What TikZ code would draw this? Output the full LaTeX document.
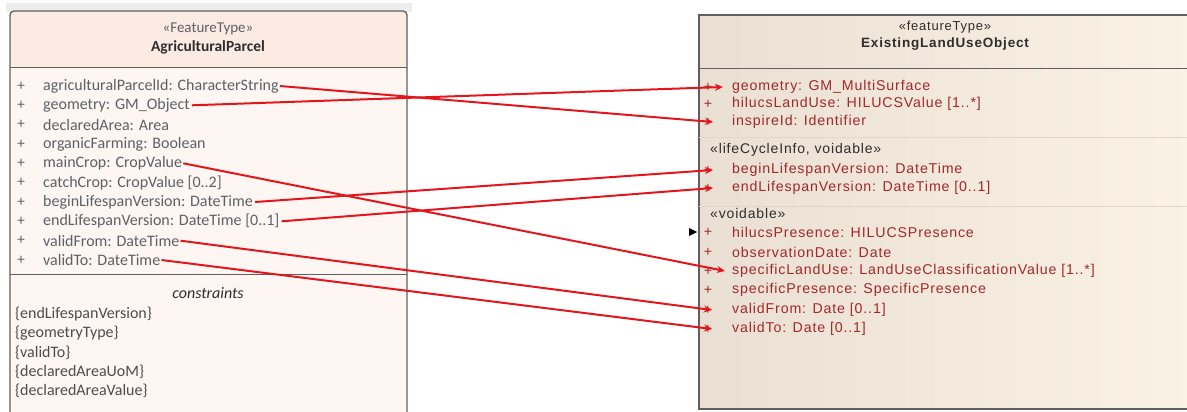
\documentclass[tikz,border=0pt]{standalone}
\usepackage{fontspec}
\setmainfont{Carlito}
\newfontfamily\arialf[LetterSpace=6]{Liberation Sans}
\usetikzlibrary{arrows.meta}
\definecolor{lhead}{HTML}{FBEBE2}
\definecolor{lbody}{HTML}{FDF6F2}
\definecolor{lgray}{HTML}{5E6068}
\definecolor{ldark}{HTML}{2E2E2E}
\definecolor{boxline}{HTML}{5F5F5F}
\definecolor{rleft}{HTML}{E9DFD2}
\definecolor{rright}{HTML}{FBF2E6}
\definecolor{rred}{HTML}{A3282C}
\definecolor{linkred}{HTML}{E3161E}
\definecolor{sepc}{HTML}{E2D6C8}
\tikzset{
  lrow/.style={anchor=west, inner sep=0pt, font=\fontsize{16}{18}\selectfont, text=lgray},
  lplus/.style={inner sep=0pt, font=\fontsize{15}{18}\selectfont, text=lgray},
  rrow/.style={anchor=west, inner sep=0pt, font=\arialf\fontsize{14.2}{16}\selectfont, text=rred},
  rplus/.style={inner sep=0pt, font=\arialf\fontsize{14.2}{16}\selectfont, text=rred},
  rsect/.style={anchor=west, inner sep=0pt, font=\arialf\fontsize{14}{16}\selectfont, text=ldark},
  link/.style={draw=linkred, line width=2pt, -{Stealth[length=8pt,width=7pt]}},
}
\begin{document}
\begin{tikzpicture}[x=1pt,y=-1pt]
\useasboundingbox (0,0) rectangle (1187,412);
\begin{scope}
\clip (0,0) rectangle (1187,412);
% faint strip above left box
\fill[black!7] (6,3) rectangle (412,12);
% left box
\fill[lbody] (10,60) rectangle (407,420);
\fill[lhead, rounded corners=4pt] (10,68) -- (10,11) -- (407,11) -- (407,68) -- cycle;
\draw[boxline, line width=1.3pt, rounded corners=4pt] (10,430) -- (10,11) -- (407,11) -- (407,430);
\draw[boxline, line width=1pt] (10,68) -- (407,68);
\draw[boxline, line width=1pt] (10,274) -- (407,274);
% right box
\shade[left color=rleft, right color=rright] (699,15) rectangle (1195,409);
\draw[boxline, line width=1.3pt] (699,15) rectangle (1195,409);
\draw[boxline, line width=1pt] (699,69) -- (1195,69);
\draw[sepc, line width=0.8pt] (699,137) -- (1195,137);
\draw[sepc, line width=0.8pt] (699,206) -- (1195,206);
\end{scope}

% left header
\node[inner sep=0pt, font=\fontsize{15}{17}\selectfont, text=lgray] (lst) at (208,29) {«FeatureType»};
\node[inner sep=0pt, font=\bfseries\fontsize{15.5}{17}\selectfont, text=ldark] (lname) at (208,47) {AgriculturalParcel};

% left rows
\foreach \i/\y in {1/86,2/105.3,3/124.7,4/144,5/163.3,6/182.7,7/202,8/221.3,9/240.7,10/260}
  \node[lplus] (lp\i) at (21,\y) {+};
\node[lrow] (a1) at (43,86) {agriculturalParcelId: CharacterString};
\node[lrow] (a2) at (43,105.3) {geometry: GM\_Object};
\node[lrow] (a3) at (43,124.7) {declaredArea: Area};
\node[lrow] (a4) at (43,144) {organicFarming: Boolean};
\node[lrow] (a5) at (43,163.3) {mainCrop: CropValue};
\node[lrow] (a6) at (43,182.7) {catchCrop: CropValue [0..2]};
\node[lrow] (a7) at (43,202) {beginLifespanVersion: DateTime};
\node[lrow] (a8) at (43,221.3) {endLifespanVersion: DateTime [0..1]};
\node[lrow] (a9) at (43,240.7) {validFrom: DateTime};
\node[lrow] (a10) at (43,260) {validTo: DateTime};

% constraints
\node[inner sep=0pt, font=\itshape\fontsize{16}{18}\selectfont, text=ldark] (ct) at (208,293) {constraints};
\node[lrow, text=ldark!85] (c1) at (15,314) {\{endLifespanVersion\}};
\node[lrow, text=ldark!85] (c2) at (15,333.3) {\{geometryType\}};
\node[lrow, text=ldark!85] (c3) at (15,352.6) {\{validTo\}};
\node[lrow, text=ldark!85] (c4) at (15,372) {\{declaredAreaUoM\}};
\node[lrow, text=ldark!85] (c5) at (15,391.3) {\{declaredAreaValue\}};

% right header
\node[inner sep=0pt, font=\arialf\fontsize{13}{14}\selectfont, text=ldark] (rst) at (945,27) {«featureType»};
\node[inner sep=0pt, font=\arialf\bfseries\fontsize{13.5}{15}\selectfont, text=ldark] (rname) at (945,44) {ExistingLandUseObject};

% right rows
\foreach \i/\y in {1/87,2/104,3/122,4/170,5/188,6/232,7/252,8/271,9/290,10/310,11/329}
  \node[rplus] (rp\i) at (708,\y) {+};
\node[rrow] (b1) at (732,87) {geometry: GM\_MultiSurface};
\node[rrow] (b2) at (732,104) {hilucsLandUse: HILUCSValue [1..*]};
\node[rrow] (b3) at (732,122) {inspireId: Identifier};
\node[rsect] (s1) at (710,150) {«lifeCycleInfo, voidable»};
\node[rrow] (b4) at (732,170) {beginLifespanVersion: DateTime};
\node[rrow] (b5) at (732,188) {endLifespanVersion: DateTime [0..1]};
\node[rsect] (s2) at (710,213) {«voidable»};
\node[rrow] (b6) at (732,232) {hilucsPresence: HILUCSPresence};
\node[rrow] (b7) at (732,252) {observationDate: Date};
\node[rrow] (b8) at (732,271) {specificLandUse: LandUseClassificationValue [1..*]};
\node[rrow] (b9) at (732,290) {specificPresence: SpecificPresence};
\node[rrow] (b10) at (732,310) {validFrom: Date [0..1]};
\node[rrow] (b11) at (732,329) {validTo: Date [0..1]};

% small black arrowhead fragment
\fill[black] (689,228) -- (697,232) -- (689,236) -- cycle;

% links
\draw[link] ([xshift=1pt]a1.east) -- ([xshift=-19pt]b3.west);
\draw[link] ([xshift=2pt]a2.east) -- ([xshift=-9pt]b1.west);
\draw[link] ([xshift=1pt]a5.east) -- ([xshift=-7pt]b8.west);
\draw[link] ([xshift=2pt]a7.east) -- ([xshift=-19pt]b4.west);
\draw[link] ([xshift=2pt]a8.east) -- ([xshift=-19pt]b5.west);
\draw[link] ([xshift=1pt]a9.east) -- ([xshift=-20pt]b10.west);
\draw[link] ([xshift=1pt]a10.east) -- ([xshift=-20pt]b11.west);
\end{tikzpicture}
\end{document}
